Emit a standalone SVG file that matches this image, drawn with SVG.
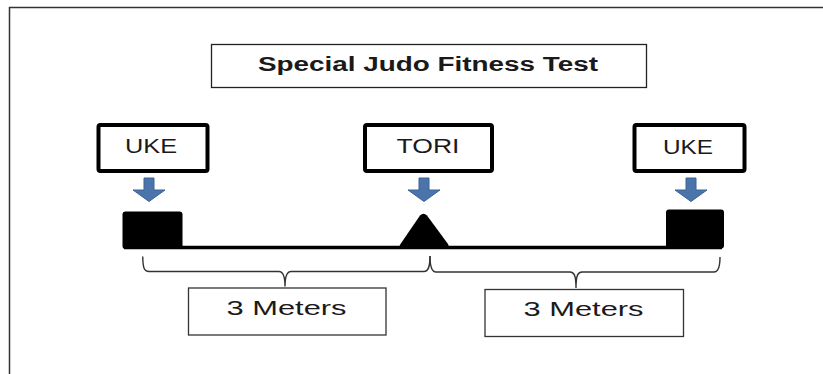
<svg xmlns="http://www.w3.org/2000/svg" width="823" height="374" viewBox="0 0 823 374">
  <defs>
    <style>
      .frame { fill: none; stroke: #333; stroke-width: 1.5; }
      .title-box { fill: #fff; stroke: #222; stroke-width: 1.3; }
      .role-box { fill: #fff; stroke: #000; stroke-width: 4; }
      .meter-box { fill: #fff; stroke: #333; stroke-width: 1.3; }
      .txt { font-family: "Liberation Sans", Arial, sans-serif; fill: #1a1a1a; text-anchor: middle; }
      .title { font-size: 20px; font-weight: bold; }
      .label { font-size: 20px; }
      .arrow { fill: #4a74aa; stroke: #3b6396; stroke-width: 1; }
      .solid { fill: #000; }
      .brace { fill: none; stroke: #333; stroke-width: 1.4; }
      .base { stroke: #000; stroke-width: 3.5; }
    </style>
    <filter id="shadow" x="-5%" y="-50%" width="110%" height="300%">
      <feGaussianBlur stdDeviation="1.5"/>
    </filter>
    <g id="down-arrow">
      <path d="M-5,0 H5 V12 H16 L0,23.5 L-16,12 H-5 Z"/>
    </g>
  </defs>

  <rect width="823" height="374" fill="#fff"/>
  <path class="frame" d="M9.5,374 V7.5 H823"/>

  <g id="title">
    <rect class="title-box" x="211.5" y="44.5" width="435" height="43"/>
    <text class="txt title" x="428" y="71" textLength="340" lengthAdjust="spacingAndGlyphs">Special Judo Fitness Test</text>
  </g>

  <g id="uke-left">
    <rect class="role-box" x="98.5" y="125" width="109" height="46" rx="2"/>
    <text class="txt label" x="151" y="153" textLength="52" lengthAdjust="spacingAndGlyphs">UKE</text>
  </g>

  <g id="tori">
    <rect class="role-box" x="365" y="125" width="127" height="46" rx="2"/>
    <text class="txt label" x="428" y="153" textLength="63" lengthAdjust="spacingAndGlyphs">TORI</text>
  </g>

  <g id="uke-right">
    <rect class="role-box" x="634.5" y="125" width="110" height="46" rx="2"/>
    <text class="txt label" x="688" y="154" textLength="50" lengthAdjust="spacingAndGlyphs">UKE</text>
  </g>

  <g id="connectors">
    <use href="#down-arrow" class="arrow" transform="translate(149,178)"/>
    <use href="#down-arrow" class="arrow" transform="translate(424,178)"/>
    <use href="#down-arrow" class="arrow" transform="translate(691,178)"/>
    <line x1="128" y1="251" x2="722" y2="251" stroke="#888" stroke-width="3" filter="url(#shadow)"/>
    <line class="base" x1="124" y1="247.5" x2="722" y2="247.5"/>
    <path class="brace" d="M142.7,256.5 C143,268 144,271.5 149,271.5 H279 C283,271.5 285,275 285,286.5 C285,275 287,271.5 291,271.5 H424 C428,271.5 430,268 430,256"/>
    <path class="brace" d="M430,256 C430,268 432,272 436,272 H570 C574,272 576,275 576,288 C576,275 578,272 582,272 H714 C718,272 720,268 720,257"/>
  </g>

  <g id="block-left">
    <rect class="solid" x="122.5" y="211.5" width="60" height="37.5" rx="3"/>
  </g>

  <g id="triangle">
    <path class="solid" d="M420,215.5 Q423.5,212 427,215.5 L448,244 Q450,248 446,248 L402,248 Q398,248 400.5,244 Z"/>
  </g>

  <g id="block-right">
    <rect class="solid" x="666" y="209.5" width="58" height="39" rx="3"/>
  </g>

  <g id="meters-left">
    <rect class="meter-box" x="188.5" y="288" width="197.5" height="47"/>
    <text class="txt label" x="286.5" y="315" textLength="120" lengthAdjust="spacingAndGlyphs">3 Meters</text>
  </g>

  <g id="meters-right">
    <rect class="meter-box" x="485" y="289.5" width="198.5" height="47"/>
    <text class="txt label" x="583.5" y="316" textLength="120" lengthAdjust="spacingAndGlyphs">3 Meters</text>
  </g>
</svg>
